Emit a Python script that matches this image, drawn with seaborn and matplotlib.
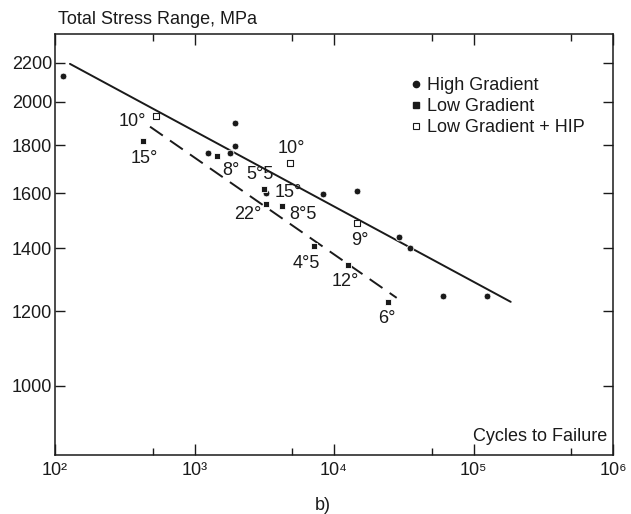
import matplotlib
matplotlib.use("Agg")
import matplotlib.pyplot as plt
from matplotlib.lines import Line2D
from matplotlib.ticker import FixedLocator, NullLocator
import seaborn as sns

# cycles to failure / total stress range (MPa)
HIGH_N = [114, 1250, 1786, 1941, 1941, 3254, 8300, 14550, 29250, 35060, 60800, 125600]
HIGH_S = [2131, 1764, 1768, 1899, 1798, 1602, 1598, 1610, 1437, 1400, 1246, 1246]

LOW_N = [425, 1449, 3148, 3254, 4237, 7230, 12670, 24270]
LOW_S = [1820, 1753, 1618, 1560, 1553, 1409, 1342, 1228]

HIP_N = [527, 4864, 14550]
HIP_S = [1933, 1725, 1488]

# fitted lines (end points)
HIGH_FIT_N = [128, 184800]
HIGH_FIT_S = [2195, 1228]
LOW_FIT_N = [480, 28140]
LOW_FIT_S = [1883, 1240]

# angle annotations
ANGLE_TEXT = ["10°", "15°", "8°", "5°5", "10°", "15°", "22°", "8°5", "4°5", "12°", "9°", "6°"]
ANGLE_N = [357, 438, 1811, 2948, 4958, 4721, 2399, 5995, 6296, 11992, 15366, 23780]
ANGLE_S = [1907, 1743, 1690, 1674, 1786, 1604, 1518, 1520, 1347, 1291, 1428, 1178]

Y_TICKS = [1000, 1200, 1400, 1600, 1800, 2000, 2200]
X_MAJOR = [1e2, 1e3, 1e4, 1e5, 1e6]
X_LABELS = ["10²", "10³", "10⁴", "10⁵", "10⁶"]
X_MINOR = [5e2, 5e3, 5e4, 5e5]

FONT = ["Liberation Sans", "DejaVu Sans"]
FS = 13
INK = "#1a1a1a"

sns.set_style("ticks")
plt.rcParams["font.family"] = FONT
plt.rcParams["font.size"] = FS

fig = plt.figure(figsize=(6.31, 5.14), dpi=100)
ax = fig.add_axes([55 / 631, 1 - 455 / 514, 558 / 631, 421 / 514])
ax.set(xscale="log", yscale="log")

sns.lineplot(x=HIGH_FIT_N, y=HIGH_FIT_S, ax=ax, color=INK, linewidth=1.4)
sns.lineplot(x=LOW_FIT_N, y=LOW_FIT_S, ax=ax, color=INK, linewidth=1.4,
             linestyle=(0, (8, 4.5)))

sns.scatterplot(x=HIGH_N, y=HIGH_S, ax=ax, marker="o", color=INK, s=24,
                edgecolor="white", linewidth=0.6, zorder=3)
sns.scatterplot(x=LOW_N, y=LOW_S, ax=ax, marker="s", color=INK, s=17,
                edgecolor="white", linewidth=0.6, zorder=3)
sns.scatterplot(x=HIP_N, y=HIP_S, ax=ax, marker="s", facecolor="white",
                edgecolor=INK, s=16, linewidth=0.8, zorder=3)

for txt, n, s in zip(ANGLE_TEXT, ANGLE_N, ANGLE_S):
    ax.text(n, s, txt, ha="center", va="center", fontsize=FS, color=INK)

ax.set_xlim(1e2, 1e6)
ax.set_ylim(845, 2361)

ax.xaxis.set_major_locator(FixedLocator(X_MAJOR))
ax.set_xticklabels(X_LABELS)
ax.xaxis.set_minor_locator(FixedLocator(X_MINOR))
ax.yaxis.set_major_locator(FixedLocator(Y_TICKS))
ax.set_yticklabels([str(v) for v in Y_TICKS])
ax.yaxis.set_minor_locator(NullLocator())

ax.tick_params(which="both", direction="in", top=True, right=True,
               colors=INK, labelcolor=INK, labelsize=FS, width=1.0)
ax.tick_params(axis="x", which="major", length=8, pad=5)
ax.tick_params(axis="x", which="minor", length=5)
ax.tick_params(axis="y", which="major", length=7.5, pad=2)
for sp in ax.spines.values():
    sp.set_color(INK)
    sp.set_linewidth(1.1)

ax.set_xlabel("")
ax.set_ylabel("")
ax.text(0.99, 0.045, "Cycles to Failure", transform=ax.transAxes,
        ha="right", va="center", fontsize=FS, color=INK)
fig.text(58 / 631, 1 - 19 / 514, "Total Stress Range, MPa", ha="left",
         va="center", fontsize=FS, color=INK)
fig.text(323 / 631, 1 - 505 / 514, "b)", ha="center", va="center",
         fontsize=FS, color=INK)

handles = [
    Line2D([], [], linestyle="none", marker="o", color=INK, markersize=4.5),
    Line2D([], [], linestyle="none", marker="s", color=INK, markersize=4),
    Line2D([], [], linestyle="none", marker="s", markerfacecolor="white",
           markeredgecolor=INK, markersize=4, markeredgewidth=0.8),
]
labels = ["High Gradient", "Low Gradient", "Low Gradient + HIP"]
ax.legend(handles, labels, loc="upper left", bbox_to_anchor=(0.638, 0.897),
          frameon=False, borderpad=0, borderaxespad=0, handlelength=0.6,
          handletextpad=0.3, labelspacing=0.22, fontsize=FS,
          labelcolor=INK)

fig.savefig("out.png", dpi=100)
